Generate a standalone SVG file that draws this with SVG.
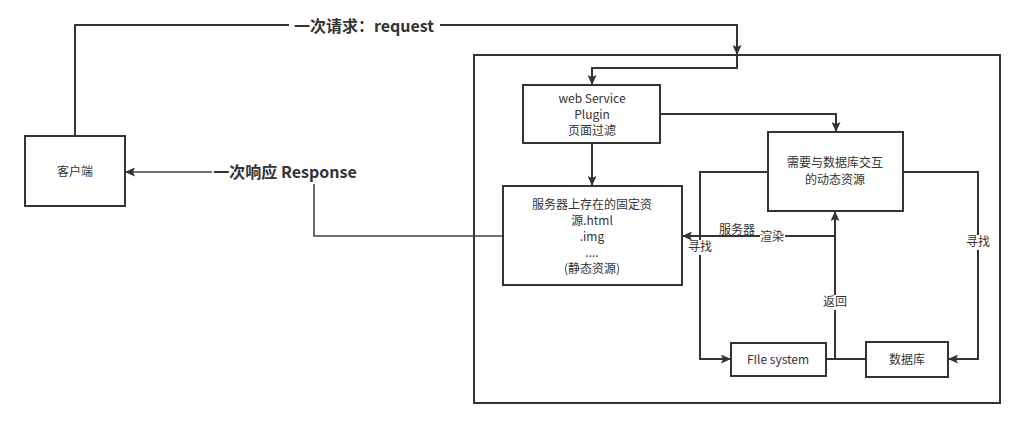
<svg xmlns="http://www.w3.org/2000/svg" width="1025" height="428" viewBox="0 0 1025 428">
<style>
.box{fill:#fff;stroke:#333;stroke-width:2}
.frame{fill:none;stroke:#333;stroke-width:2}
.ln{fill:none;stroke:#333;stroke-width:2}
.t{font-family:"Noto Sans CJK SC","Noto Sans",sans-serif;font-size:12px;fill:#333;text-anchor:middle}
.b{font-family:"Noto Sans CJK SC","Noto Sans",sans-serif;font-size:16px;font-weight:bold;fill:#333;text-anchor:middle}
.bg{fill:#fff}
</style>
<defs>
<marker id="arr" viewBox="0 0 10 9" refX="10" refY="4.5" markerWidth="10" markerHeight="9" markerUnits="userSpaceOnUse" orient="auto">
<path d="M0,0 L10,4.5 L0,9 L2,4.5 Z" fill="#333"/>
</marker>
</defs>
<rect width="1025" height="428" fill="#fff"/>
<g id="server">
<rect class="frame" x="474" y="55" width="526" height="348"/>
</g>
<g id="connectors">
<polyline class="ln" points="75,136 75,25 737,25 737,55" marker-end="url(#arr)"/>
<polyline class="ln" points="737,55 737,68 592,68 592,85" marker-end="url(#arr)"/>
<polyline class="ln" points="660,114 836,114 836,132" marker-end="url(#arr)"/>
<line class="ln" x1="592" y1="143" x2="592" y2="186" marker-end="url(#arr)"/>
<polyline class="ln" points="768,172 700,172 700,359 731,359" marker-end="url(#arr)"/>
<polyline class="ln" points="903,172 978,172 978,359 948,359" marker-end="url(#arr)"/>
<line class="ln" x1="826" y1="359" x2="866" y2="359"/>
<line class="ln" x1="835" y1="359" x2="835" y2="211" marker-end="url(#arr)"/>
<polyline class="ln" points="835,236 682,236" marker-end="url(#arr)"/>
<polyline class="ln" points="503,236 314,236 314,172 125,172" marker-end="url(#arr)" style="stroke:#444;stroke-width:1.6"/>
<rect class="bg" x="289" y="15" width="151" height="22"/>
<text class="b" x="364" y="32">一次请求：request</text>
<rect class="bg" x="212" y="162" width="147" height="22"/>
<text class="b" x="285" y="178">一次响应 Response</text>
<text class="t" x="737" y="234">服务器</text>
<rect class="bg" x="760" y="229" width="25" height="15"/>
<text class="t" x="772" y="241">渲染</text>
<rect class="bg" x="688" y="240" width="25" height="15"/>
<text class="t" x="700" y="251">寻找</text>
<rect class="bg" x="966" y="235" width="25" height="15"/>
<text class="t" x="978" y="246">寻找</text>
<rect class="bg" x="823" y="295" width="25" height="15"/>
<text class="t" x="835" y="306">返回</text>
</g>
<g id="client">
<rect class="box" x="25" y="136" width="100" height="70"/>
<text class="t" x="75" y="176">客户端</text>
</g>
<g id="web-service">
<rect class="box" x="523" y="85" width="137" height="58"/>
<text class="t" x="592" y="103">web Service</text>
<text class="t" x="592" y="119">Plugin</text>
<text class="t" x="592" y="135">页面过滤</text>
</g>
<g id="dynamic">
<rect class="box" x="768" y="132" width="135" height="79"/>
<text class="t" x="835" y="167">需要与数据库交互</text>
<text class="t" x="835" y="184">的动态资源</text>
</g>
<g id="static">
<rect class="box" x="503" y="186" width="179" height="99"/>
<text class="t" x="592" y="209">服务器上存在的固定资</text>
<text class="t" x="592" y="225">源.html</text>
<text class="t" x="592" y="241">.img</text>
<text class="t" x="592" y="257">....</text>
<text class="t" x="592" y="273">(静态资源)</text>
</g>
<g id="filesystem">
<rect class="box" x="731" y="343" width="95" height="33"/>
<text class="t" x="778" y="364">FIle system</text>
</g>
<g id="database">
<rect class="box" x="866" y="342" width="82" height="35"/>
<text class="t" x="907" y="364">数据库</text>
</g>
</svg>
